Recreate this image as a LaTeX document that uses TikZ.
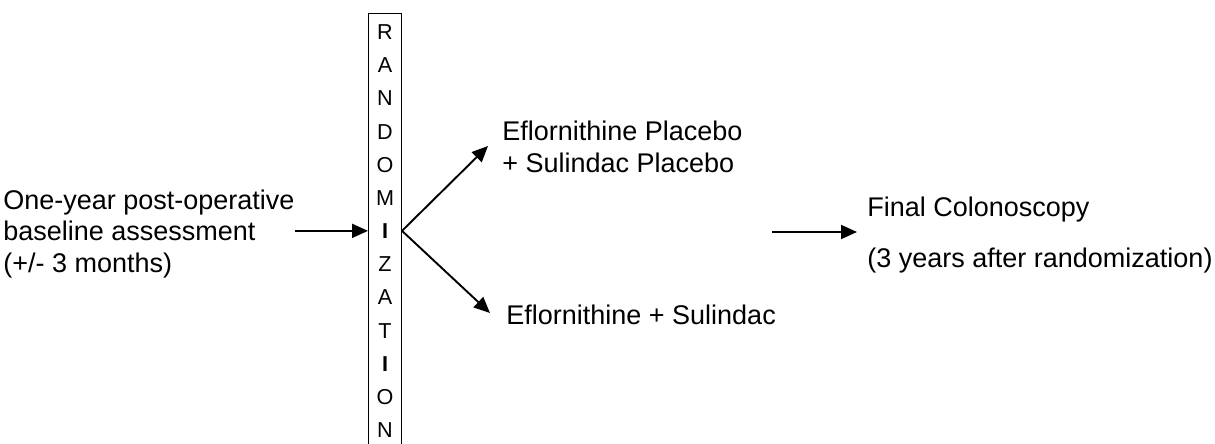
\documentclass[tikz,border=0pt]{standalone}
\usepackage{fontspec}
\setmainfont{Liberation Sans}
\usetikzlibrary{arrows.meta,calc}
\begin{document}
\begin{tikzpicture}[x=0.5pt,y=-0.5pt,
  lbl/.style={inner sep=0pt, anchor=base west, font=\fontsize{13.5pt}{16pt}\selectfont},
  arr/.style={line width=0.95pt, -{Triangle[length=8pt,width=7pt]}},
  randbox/.style={draw, line width=0.5pt, minimum width=16.5pt, inner xsep=0pt, inner ysep=5.65pt,
    anchor=north, align=center, font=\fontsize{10.8pt}{16.58pt}\selectfont}]
\useasboundingbox (0,0) rectangle (1215,444);

% baseline assessment block
\node[lbl] (pre1) at (3,209) {One-year post-operative};
\node[lbl] (pre2) at (3,240.5) {baseline assessment};
\node[lbl] (pre3) at (3,272) {(+/- 3 months)};

% randomization bar
\node[randbox] (box) at (385,13) {R\\A\\N\\D\\O\\M\\\textbf{I}\\Z\\A\\T\\\textbf{I}\\O\\N};

% treatment arms
\node[lbl] (armA1) at (502,140.7) {Eflornithine Placebo};
\node[lbl] (armA2) at (502,172.7) {+ Sulindac Placebo};
\node[lbl] (armB) at (506,324.7) {Eflornithine + Sulindac};

% final outcome
\node[lbl] (fin1) at (867,216.7) {Final Colonoscopy};
\node[lbl] (fin2) at (867,267) {(3 years after randomization)};

% connector end points
\coordinate (fork) at (box.east |- pre2);
\coordinate (tipA) at (488,146);
\coordinate (tipB) at (490,313);
\coordinate (outS) at (772,232);

\draw[arr] (pre1.east |- pre2) -- (pre2 -| box.west);
\draw[arr] (fork) -- (tipA);
\draw[arr] (fork) -- (tipB);
\draw[arr, shorten >=5pt] (outS) -- (fin1.west |- outS);
\end{tikzpicture}
\end{document}
